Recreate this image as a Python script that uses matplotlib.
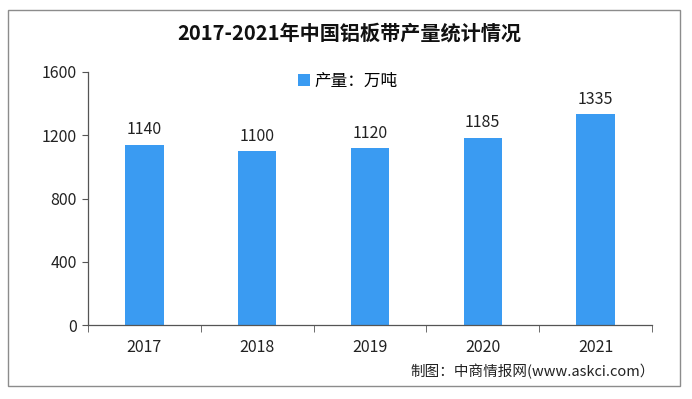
import matplotlib
matplotlib.use("Agg")
import matplotlib.pyplot as plt
from matplotlib.patches import Rectangle

plt.rcParams['font.family'] = ['Noto Sans CJK SC', 'DejaVu Sans']

years = ["2017", "2018", "2019", "2020", "2021"]
output = [1140, 1100, 1120, 1185, 1335]
yticks = [0, 400, 800, 1200, 1600]

W, H = 692, 399
fig = plt.figure(figsize=(W / 100, H / 100), dpi=100)
fig.patch.set_facecolor("white")

# outer frame
fig.patches.append(Rectangle((8 / W, 1 - 386 / H), (680 - 8) / W, (386 - 10) / H,
                             transform=fig.transFigure, fill=False,
                             edgecolor="#8c8c8c", linewidth=1.0))

ax = fig.add_axes([88 / W, 1 - 325 / H, (652 - 88) / W, (325 - 72) / H])
x = list(range(len(years)))
ax.bar(x, output, width=0.34, color="#3a9bf2", label="产量：万吨", zorder=2)
for xi, v in zip(x, output):
    ax.text(xi, v + 40, str(v), ha="center", va="bottom", fontsize=11.5, color="#222222")

ax.set_xlim(-0.5, len(years) - 0.5)
ax.set_ylim(0, 1600)
ax.set_yticks(yticks)
ax.set_yticklabels([str(t) for t in yticks], fontsize=11.5, color="#222222")
ax.set_xticks(x)
ax.set_xticklabels(years, fontsize=11.5, color="#222222")
ax.tick_params(axis="x", length=0, pad=10)
ax.set_xticks([i - 0.5 for i in range(len(years) + 1)], minor=True)
ax.tick_params(axis="x", which="minor", length=5, color="#555555")
ax.tick_params(axis="y", length=4, color="#555555", pad=4)

for s in ["top", "right"]:
    ax.spines[s].set_visible(False)
for s in ["left", "bottom"]:
    ax.spines[s].set_color("#555555")
    ax.spines[s].set_linewidth(0.9)

fig.text(349 / W, 1 - 33 / H, "2017-2021年中国铝板带产量统计情况", ha="center", va="center",
         fontsize=14.5, fontweight="bold", color="#111111")

ax.legend(loc="upper center", bbox_to_anchor=(348 / W, 1 - 58 / H), bbox_transform=fig.transFigure,
          frameon=False, fontsize=12, handlelength=0.7, handleheight=0.7, handletextpad=0.3)

fig.text(655 / W, 1 - 371 / H, "制图：中商情报网(www.askci.com）", ha="right", va="center",
         fontsize=10.5, color="#222222")

fig.savefig("out.png", dpi=100, facecolor="white")
